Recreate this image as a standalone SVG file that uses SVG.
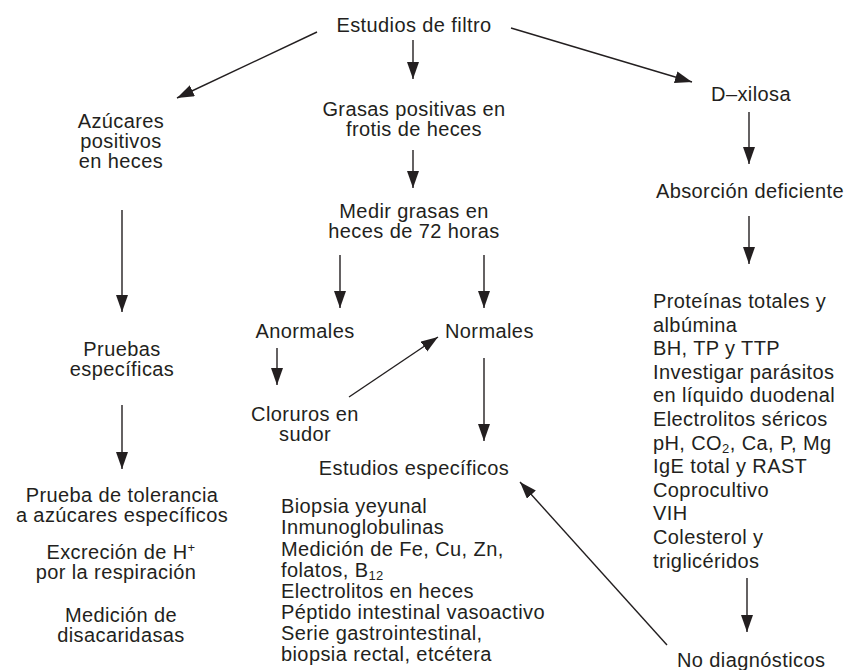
<svg xmlns="http://www.w3.org/2000/svg" width="848" height="670" viewBox="0 0 848 670">
<style>
text{font-family:"Liberation Sans",Arial,Helvetica,sans-serif;font-size:20px;fill:#231f20;letter-spacing:0.4px}
.c{text-anchor:middle}
.s{font-size:13px}
.e line{stroke:#231f20;stroke-width:1.4;fill:none;marker-end:url(#ah)}
</style>
<defs>
<marker id="ah" markerUnits="userSpaceOnUse" markerWidth="18" markerHeight="13" refX="17" refY="6" orient="auto">
<path d="M0,0 L17,6 L0,12 Z" fill="#231f20"/>
</marker>
</defs>
<rect width="848" height="670" fill="#ffffff"/>
<g class="e" id="connectors">
<line x1="317" y1="32" x2="177" y2="98"/>
<line x1="413" y1="40" x2="413" y2="79"/>
<line x1="511" y1="28" x2="692" y2="82"/>
<line x1="122" y1="210" x2="122" y2="312"/>
<line x1="122" y1="405" x2="122" y2="469"/>
<line x1="413" y1="150" x2="413" y2="188"/>
<line x1="340" y1="255" x2="340" y2="308"/>
<line x1="484" y1="255" x2="484" y2="308"/>
<line x1="277" y1="348" x2="277" y2="385"/>
<line x1="349" y1="397" x2="438" y2="337"/>
<line x1="484" y1="358" x2="484" y2="441"/>
<line x1="749" y1="112" x2="749" y2="164"/>
<line x1="749" y1="216" x2="749" y2="264"/>
<line x1="747" y1="578" x2="747" y2="632"/>
<line x1="667" y1="645" x2="520" y2="482"/>
</g>
<g id="estudios-filtro"><text class="c" x="414" y="32">Estudios de filtro</text></g>
<g id="azucares"><text class="c"><tspan x="121" y="128">Azúcares</tspan><tspan x="121" y="148">positivos</tspan><tspan x="121" y="168">en heces</tspan></text></g>
<g id="grasas"><text class="c"><tspan x="414" y="116">Grasas positivas en</tspan><tspan x="414" y="136">frotis de heces</tspan></text></g>
<g id="dxilosa"><text class="c" x="751" y="101">D–xilosa</text></g>
<g id="absorcion"><text class="c" x="750" y="198">Absorción deficiente</text></g>
<g id="medir"><text class="c"><tspan x="414" y="218">Medir grasas en</tspan><tspan x="414" y="238">heces de 72 horas</tspan></text></g>
<g id="anormales"><text class="c" x="305" y="338">Anormales</text></g>
<g id="normales"><text x="445" y="338">Normales</text></g>
<g id="cloruros"><text class="c"><tspan x="305" y="421">Cloruros en</tspan><tspan x="305" y="441">sudor</tspan></text></g>
<g id="pruebas"><text class="c"><tspan x="122" y="356">Pruebas</tspan><tspan x="122" y="376">específicas</tspan></text></g>
<g id="pruebas-lista">
<text class="c"><tspan x="122" y="502">Prueba de tolerancia</tspan><tspan x="122" y="522">a azúcares específicos</tspan></text>
<text class="c"><tspan x="121" y="559">Excreción de H<tspan class="s" dy="-7">+</tspan></tspan><tspan x="116" y="579">por la respiración</tspan></text>
<text class="c"><tspan x="121" y="622">Medición de</tspan><tspan x="121" y="642">disacaridasas</tspan></text>
</g>
<g id="estudios-especificos"><text class="c" x="414" y="475">Estudios específicos</text></g>
<g id="lista-especificos"><text>
<tspan x="281" y="513">Biopsia yeyunal</tspan>
<tspan x="281" y="534">Inmunoglobulinas</tspan>
<tspan x="281" y="556">Medición de Fe, Cu, Zn,</tspan>
<tspan x="281" y="577">folatos, B<tspan class="s" dy="3">12</tspan></tspan>
<tspan x="281" y="598">Electrolitos en heces</tspan>
<tspan x="281" y="619">Péptido intestinal vasoactivo</tspan>
<tspan x="281" y="640">Serie gastrointestinal,</tspan>
<tspan x="281" y="661">biopsia rectal, etcétera</tspan>
</text></g>
<g id="lista-absorcion"><text>
<tspan x="653" y="308">Proteínas totales y</tspan>
<tspan x="653" y="331.6">albúmina</tspan>
<tspan x="653" y="355.2">BH, TP y TTP</tspan>
<tspan x="653" y="378.8">Investigar parásitos</tspan>
<tspan x="653" y="402.4">en líquido duodenal</tspan>
<tspan x="653" y="426">Electrolitos séricos</tspan>
<tspan x="653" y="449.6">pH, CO<tspan class="s" dy="3">2</tspan><tspan dy="-3">, Ca, P, Mg</tspan></tspan>
<tspan x="653" y="473.2">IgE total y RAST</tspan>
<tspan x="653" y="496.8">Coprocultivo</tspan>
<tspan x="653" y="520.4">VIH</tspan>
<tspan x="653" y="544">Colesterol y</tspan>
<tspan x="653" y="567.6">triglicéridos</tspan>
</text></g>
<g id="no-diagnosticos"><text x="677" y="667">No diagnósticos</text></g>
</svg>
